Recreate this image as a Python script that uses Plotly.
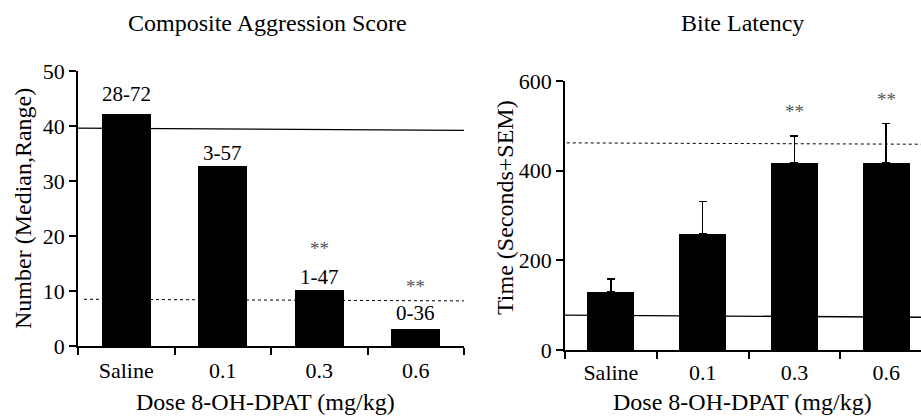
import plotly.graph_objects as go

# ---- data ----
doses = ["Saline", "0.1", "0.3", "0.6"]
agg_median = [42.2, 32.7, 10.1, 3.1]
agg_range = ["28-72", "3-57", "1-47", "0-36"]
agg_sig = ["", "", "**", "**"]
lat_mean = [129, 259, 417, 417]
lat_sem = [30, 72, 61, 88]
lat_sig = ["", "", "**", "**"]
agg_ref_solid = [39.6, 39.2]
agg_ref_dot = [8.5, 8.2]
lat_ref_solid = [78, 73]
lat_ref_dot = [462, 459]

W, H = 921, 416
FONT = "Liberation Serif, Times New Roman, serif"

def px_x(p):
    return p / W

def px_y(p):
    return 1 - p / H

fig = go.Figure()
fig.add_trace(go.Bar(x=doses, y=agg_median, xaxis="x", yaxis="y",
                     marker=dict(color="black", line=dict(width=0)), width=0.51))
fig.add_trace(go.Bar(x=doses, y=lat_mean, xaxis="x2", yaxis="y2",
                     marker=dict(color="black", line=dict(width=0)), width=0.51,
                     error_y=dict(type="data", array=lat_sem, arrayminus=[0]*4, symmetric=False,
                                  color="black", thickness=1.6, width=4)))

axis_common = dict(showline=True, linecolor="black", linewidth=1.5, ticks="outside",
                   tickcolor="black", ticklen=7, tickwidth=1.5, showgrid=False, zeroline=False,
                   automargin=False,
                   tickfont=dict(family=FONT, size=22, color="black"))

fig.update_layout(
    width=W, height=H, margin=dict(l=0, r=0, t=0, b=0, autoexpand=False),
    paper_bgcolor="white", plot_bgcolor="white", showlegend=False, bargap=0,
    font=dict(family=FONT, color="black"),
    xaxis=dict(domain=[px_x(78), px_x(464)], anchor="y", type="category",
               range=[-0.5, 3.5], tickson="boundaries", ticklabelstandoff=4, **axis_common),
    yaxis=dict(domain=[px_y(346), px_y(71)], anchor="x", range=[0, 50],
               tickvals=[0, 10, 20, 30, 40, 50], **axis_common),
    xaxis2=dict(domain=[px_x(565), 1.0], anchor="y2", type="category",
                range=[-0.5, 3.38], tickson="boundaries", ticklabelstandoff=2, **axis_common),
    yaxis2=dict(domain=[px_y(350), px_y(81)], anchor="x2", range=[0, 600],
                tickvals=[0, 200, 400, 600], **axis_common),
)

shapes = []
def ref_line(xref, yref, x0, vals, dash, width):
    shapes.append(dict(type="line", xref=xref, yref=yref, x0=x0, x1=1.0,
                       y0=vals[0], y1=vals[1], line=dict(color="black", width=width, dash=dash),
                       layer="below"))

ref_line("x domain", "y", -0.003, agg_ref_solid, "solid", 1.3)
ref_line("x domain", "y", 0.0155, agg_ref_dot, "dot", 1.0)
ref_line("x2 domain", "y2", 0.0, lat_ref_solid, "solid", 1.3)
ref_line("x2 domain", "y2", 0.005, lat_ref_dot, "dot", 1.0)
fig.update_layout(shapes=shapes)

ann = []
# range labels above left bars
label_shift = [20, 13, 13, 16]
for i, (v, r, s) in enumerate(zip(agg_median, agg_range, label_shift)):
    ann.append(dict(x=i, y=v, xref="x", yref="y", text=r, showarrow=False,
                    yanchor="middle", yshift=s, font=dict(family=FONT, size=21, color="black")))
for i, (v, sg) in enumerate(zip(agg_median, agg_sig)):
    if sg:
        ann.append(dict(x=i, y=v, xref="x", yref="y", text=sg, showarrow=False,
                        yanchor="middle", yshift=42, font=dict(family=FONT, size=19, color="#555555")))
for i, (v, e, sg) in enumerate(zip(lat_mean, lat_sem, lat_sig)):
    if sg:
        ann.append(dict(x=i, y=v + e, xref="x2", yref="y2", text=sg, showarrow=False,
                        yanchor="middle", yshift=24, font=dict(family=FONT, size=19, color="#555555")))

titles = [
    ("Composite Aggression Score", 267, 23, 0),
    ("Bite Latency", 742, 23, 0),
    ("Dose 8-OH-DPAT (mg/kg)", 265, 402, 0),
    ("Dose 8-OH-DPAT (mg/kg)", 742, 402, 0),
    ("Number (Median,Range)", 23, 209, -90),
    ("Time (Seconds+SEM)", 505, 208, -90),
]
for t, x, y, ang in titles:
    ann.append(dict(x=px_x(x), y=px_y(y), xref="paper", yref="paper", text=t, showarrow=False,
                    xanchor="center", yanchor="middle", textangle=ang,
                    font=dict(family=FONT, size=24, color="black")))
fig.update_layout(annotations=ann)

fig.write_html("out.html", config={"displayModeBar": False},
               post_script="document.body.style.margin='0';document.body.style.overflow='hidden';")
